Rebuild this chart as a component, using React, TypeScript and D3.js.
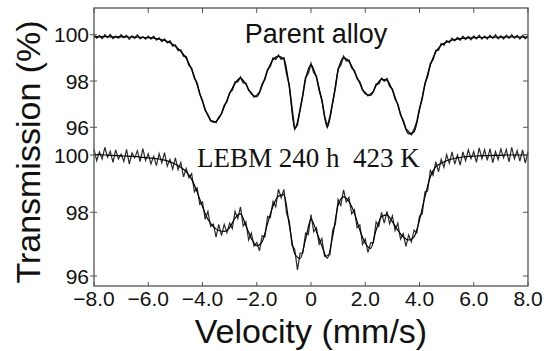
import React from 'react';
import * as d3 from 'd3';

// ---- data (Mössbauer transmission, %) ----
const velocityTicks = [-8, -6, -4, -2, 0, 2, 4, 6, 8];
const velocityTickLabels = ['\u22128.0', '\u22126.0', '\u22124.0', '\u22122.0', '0', '2.0', '4.0', '6.0', '8.0'];
const transmissionTicks = [100, 98, 96];
const transmissionTickLabels = ['100', '98', '96'];

const dataStep = 0.1; // mm/s per channel of the measured spectra
const fitStep = 0.2;  // mm/s per point of the fitted curves

// Parent alloy: measured points, -8.0 ... 8.0 mm/s
const parentData = [
  99.97, 99.86, 99.95, 99.84, 99.99, 99.88, 100.00, 99.84, 99.93, 99.86,
  99.99, 99.88, 99.96, 99.81, 99.94, 99.85, 99.99, 99.83, 99.91, 99.81,
  99.93, 99.82, 99.93, 99.77, 99.86, 99.71, 99.81, 99.65, 99.73, 99.52,
  99.55, 99.32, 99.34, 99.08, 99.05, 98.68, 98.55, 98.12, 97.92, 97.43,
  97.16, 96.73, 96.55, 96.28, 96.26, 96.21, 96.44, 96.58, 96.95, 97.11,
  97.50, 97.61, 97.96, 97.97, 98.17, 97.92, 97.91, 97.60, 97.49, 97.31,
  97.38, 97.51, 97.87, 98.07, 98.50, 98.63, 98.99, 98.94, 99.12, 98.94,
  99.00, 98.31, 97.81, 96.83, 95.92, 96.10, 96.81, 97.38, 98.15, 98.34,
  98.75, 98.37, 98.20, 97.59, 97.20, 96.49, 96.03, 96.47, 97.10, 97.70,
  98.53, 98.69, 99.07, 98.87, 98.90, 98.57, 98.46, 98.10, 97.96, 97.61,
  97.50, 97.36, 97.45, 97.54, 97.86, 97.88, 98.12, 97.99, 98.10, 97.77,
  97.66, 97.22, 97.01, 96.53, 96.30, 95.94, 95.81, 95.68, 95.91, 96.24,
  96.82, 97.23, 97.89, 98.19, 98.75, 98.92, 99.32, 99.34, 99.61, 99.55,
  99.74, 99.66, 99.84, 99.74, 99.88, 99.77, 99.93, 99.80, 99.92, 99.79,
  99.94, 99.83, 99.97, 99.82, 99.93, 99.82, 99.97, 99.85, 99.99, 99.83,
  99.94, 99.82, 99.97, 99.85, 99.99, 99.86, 99.96, 99.82, 99.95, 99.84,
  99.94,
];

// Parent alloy: fitted curve, -8.0 ... 8.0 mm/s
const parentFit = [
  99.92, 99.92, 99.92, 99.91, 99.91, 99.91, 99.90, 99.90, 99.89, 99.88,
  99.87, 99.85, 99.81, 99.75, 99.65, 99.50, 99.28, 98.98, 98.50, 97.85,
  97.10, 96.50, 96.22, 96.38, 96.88, 97.45, 97.90, 98.12, 97.85, 97.45,
  97.32, 97.80, 98.45, 98.92, 99.06, 98.95, 97.75, 95.95, 96.75, 98.10,
  98.70, 98.15, 97.15, 96.00, 97.05, 98.47, 99.00, 98.85, 98.40, 97.90,
  97.45, 97.38, 97.80, 98.07, 98.04, 97.60, 96.96, 96.24, 95.72, 95.80,
  96.75, 97.83, 98.69, 99.25, 99.55, 99.68, 99.76, 99.81, 99.84, 99.86,
  99.87, 99.88, 99.88, 99.89, 99.89, 99.89, 99.90, 99.90, 99.90, 99.90,
  99.90,
];

// LEBM 240 h 423 K: measured points, -8.0 ... 8.0 mm/s
const lebmData = [
  100.20, 99.80, 100.11, 99.86, 100.27, 99.92, 100.13, 99.74, 100.18, 99.86,
  100.03, 99.78, 100.20, 99.68, 100.07, 99.90, 100.15, 99.77, 100.22, 99.81,
  100.05, 99.69, 99.96, 99.63, 100.05, 99.73, 100.08, 99.61, 99.85, 99.51,
  99.90, 99.49, 99.74, 99.24, 99.53, 99.20, 99.35, 98.71, 98.85, 98.28,
  98.36, 97.78, 98.03, 97.55, 97.63, 97.22, 97.62, 97.27, 97.62, 97.36,
  97.66, 97.49, 98.03, 97.80, 98.19, 97.57, 97.70, 97.13, 97.35, 96.94,
  97.05, 96.79, 97.27, 97.23, 97.87, 97.83, 98.38, 98.19, 98.81, 98.51,
  98.80, 97.96, 97.73, 96.96, 96.84, 96.19, 96.72, 96.73, 97.35, 97.30,
  97.93, 97.39, 97.51, 97.00, 97.18, 96.62, 96.64, 96.67, 97.44, 97.63,
  98.45, 98.24, 98.78, 98.36, 98.52, 97.95, 98.09, 97.52, 97.61, 96.99,
  97.16, 96.74, 97.05, 97.04, 97.70, 97.56, 98.00, 97.66, 98.03, 97.64,
  97.89, 97.43, 97.66, 97.16, 97.33, 96.93, 97.29, 97.07, 97.44, 97.35,
  97.88, 97.95, 98.71, 98.74, 99.46, 99.29, 99.77, 99.41, 99.85, 99.57,
  100.01, 99.71, 100.11, 99.68, 100.00, 99.65, 100.11, 99.80, 100.18, 99.87,
  100.12, 99.74, 100.25, 99.87, 100.18, 99.81, 100.22, 99.73, 100.12, 99.84,
  100.21, 99.90, 100.19, 99.76, 100.27, 99.87, 100.15, 99.79, 100.18, 99.72,
  100.12,
];

// LEBM 240 h 423 K: fitted curve, -8.0 ... 8.0 mm/s
const lebmFit = [
  100.02, 100.01, 100.00, 99.99, 99.98, 99.97, 99.96, 99.95, 99.94, 99.92,
  99.90, 99.88, 99.86, 99.82, 99.76, 99.68, 99.57, 99.42, 99.15, 98.72,
  98.20, 97.78, 97.55, 97.43, 97.40, 97.52, 97.82, 97.95, 97.58, 97.18,
  96.95, 97.08, 97.65, 98.22, 98.56, 98.62, 97.60, 96.70, 96.55, 97.15,
  97.78, 97.40, 96.95, 96.56, 97.25, 98.25, 98.54, 98.37, 97.97, 97.44,
  97.03, 96.87, 97.44, 97.86, 97.92, 97.70, 97.44, 97.23, 97.13, 97.23,
  97.76, 98.54, 99.24, 99.59, 99.71, 99.80, 99.86, 99.90, 99.93, 99.95,
  99.96, 99.97, 99.98, 99.98, 99.99, 99.99, 100.00, 100.00, 100.00, 100.00,
  100.00,
];

const W = 547;
const H = 351;
const FRAME = { left: 94, right: 528, top: 8, bottom: 286 };

const x = d3.scaleLinear().domain([-8, 8]).range([FRAME.left, FRAME.right]);
const yTop = d3.scaleLinear().domain([96, 100]).range([127.3, 34.7]);
const yBottom = d3.scaleLinear().domain([96, 98, 100]).range([276, 212.3, 155]);

type Pt = [number, number];
const toPts = (vals: number[], step: number): Pt[] => vals.map((v, i) => [-8 + i * step, v]);

function makeLine(y: d3.ScaleLinear<number, number>, curve: d3.CurveFactory) {
  return d3
    .line<Pt>()
    .x((d) => x(d[0]))
    .y((d) => y(d[1]))
    .curve(curve);
}

const SANS = '"Liberation Sans", Arial, Helvetica, sans-serif';
const SERIF = '"Liberation Serif", "Times New Roman", serif';

export default function App() {
  const topDataPath = makeLine(yTop, d3.curveLinear)(toPts(parentData, dataStep)) || '';
  const topFitPath = makeLine(yTop, d3.curveMonotoneX)(toPts(parentFit, fitStep)) || '';
  const botDataPath = makeLine(yBottom, d3.curveLinear)(toPts(lebmData, dataStep)) || '';
  const botFitPath = makeLine(yBottom, d3.curveMonotoneX)(toPts(lebmFit, fitStep)) || '';

  const frameColor = '#555';

  return (
    <svg
      width={W}
      height={H}
      viewBox={`0 0 ${W} ${H}`}
      style={{ position: 'absolute', left: 0, top: 0, background: '#fff' }}
    >
      <rect x={0} y={0} width={W} height={H} fill="#fff" />

      {/* spectra */}
      <path d={topDataPath} fill="none" stroke="#222" strokeWidth={1.5} strokeLinejoin="miter" />
      <path d={topFitPath} fill="none" stroke="#000" strokeWidth={1.2} />
      <path d={botDataPath} fill="none" stroke="#2a2a2a" strokeWidth={1.2} />
      <path d={botFitPath} fill="none" stroke="#000" strokeWidth={1.2} />

      {/* frame */}
      <rect
        x={FRAME.left}
        y={FRAME.top}
        width={FRAME.right - FRAME.left}
        height={FRAME.bottom - FRAME.top}
        fill="none"
        stroke={frameColor}
        strokeWidth={1.3}
      />

      {/* x ticks (bottom and top, inward) */}
      {velocityTicks.map((t, i) => (
        <g key={`xt${i}`}>
          <line x1={x(t)} x2={x(t)} y1={FRAME.bottom} y2={FRAME.bottom - 4} stroke={frameColor} strokeWidth={1} />
          <line x1={x(t)} x2={x(t)} y1={FRAME.top} y2={FRAME.top + 5} stroke={frameColor} strokeWidth={1} />
          <text
            x={x(t)}
            y={306}
            textAnchor="middle"
            fontFamily={SANS}
            fontSize={21}
            fill="#111"
          >
            {velocityTickLabels[i]}
          </text>
        </g>
      ))}

      {/* y ticks for both panels */}
      {[yTop, yBottom].map((ys, p) =>
        transmissionTicks.map((t, i) => (
          <g key={`yt${p}-${i}`}>
            <line x1={FRAME.left - 4} x2={FRAME.left + 3} y1={ys(t)} y2={ys(t)} stroke={frameColor} strokeWidth={1} />
            <line x1={FRAME.right - 5} x2={FRAME.right} y1={ys(t)} y2={ys(t)} stroke={frameColor} strokeWidth={1} />
            <text
              x={89}
              y={ys(t) + 7.5}
              textAnchor="end"
              fontFamily={SANS}
              fontSize={21}
              fill="#111"
            >
              {transmissionTickLabels[i]}
            </text>
          </g>
        ))
      )}

      {/* panel labels */}
      <text x={316} y={43} textAnchor="middle" fontFamily={SANS} fontSize={27} fill="#111">
        Parent alloy
      </text>
      <text
        x={197}
        y={167}
        textAnchor="start"
        fontFamily={SERIF}
        fontSize={27}
        fill="#111"
        style={{ whiteSpace: 'pre' }}
      >
        {'LEBM 240 h  423 K'}
      </text>

      {/* axis titles */}
      <text x={311} y={343} textAnchor="middle" fontFamily={SANS} fontSize={34} fill="#111">
        Velocity (mm/s)
      </text>
      <text
        transform="translate(40,152) rotate(-90)"
        textAnchor="middle"
        fontFamily={SANS}
        fontSize={34}
        fill="#111"
      >
        Transmission (%)
      </text>
    </svg>
  );
}
